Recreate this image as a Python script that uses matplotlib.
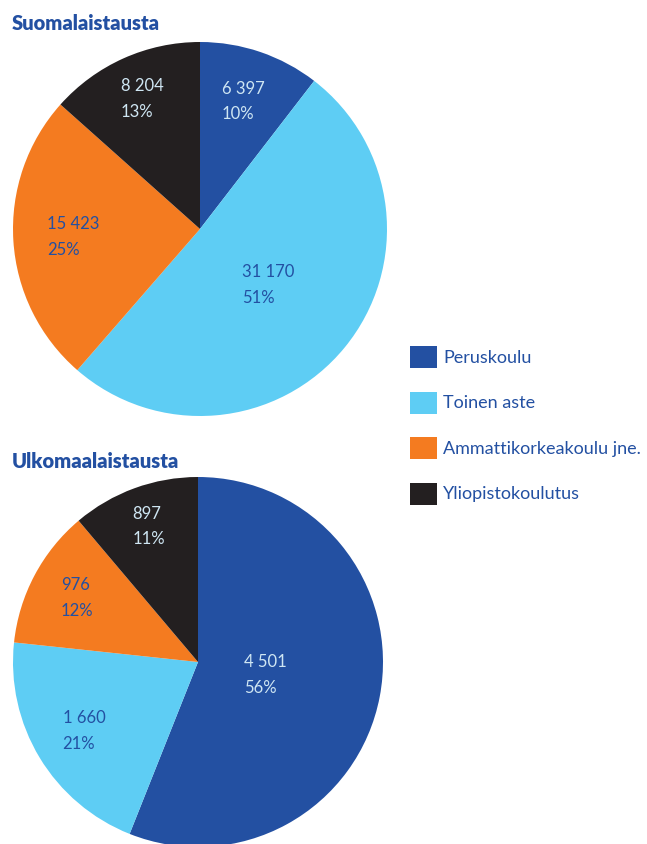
import numpy as np
import matplotlib
matplotlib.use("Agg")
import matplotlib.pyplot as plt

plt.rcParams['font.family'] = ['Lato', 'DejaVu Sans']

categories = ['Peruskoulu', 'Toinen aste', 'Ammattikorkeakoulu jne.', 'Yliopistokoulutus']
suomi = [6397, 31170, 15423, 8204]
ulko = [4501, 1660, 976, 897]

colors = ['#2350a2', '#5ecdf4', '#f47b20', '#231f20']
label_colors = ['#cfe6f3', '#2350a2', '#2350a2', '#cfe6f3']
navy = '#2350a2'

W, H = 647, 844
fig = plt.figure(figsize=(W / 100, H / 100), dpi=100)


def pie_axes(cx, cy, r):
    return fig.add_axes([(cx - r) / W, 1 - (cy + r) / H, 2 * r / W, 2 * r / H])


def draw_pie(ax, vals, dists):
    wedges, _ = ax.pie(vals, colors=colors, startangle=90, counterclock=False,
                       radius=1, wedgeprops=dict(linewidth=0))
    total = sum(vals)
    for w, v, d, c in zip(wedges, vals, dists, label_colors):
        ang = np.deg2rad((w.theta1 + w.theta2) / 2)
        txt = "{:,}".format(v).replace(",", " ") + "\n" + "%d%%" % round(v / total * 100)
        ax.text(d * np.cos(ang), d * np.sin(ang), txt, ha='center', va='center',
                multialignment='left', color=c, fontsize=12, linespacing=1.75)
    ax.set_xlim(-1, 1)
    ax.set_ylim(-1, 1)
    ax.set_aspect('equal')
    ax.axis('off')
    return wedges


ax1 = pie_axes(200, 229, 187)
wedges = draw_pie(ax1, suomi, [0.72, 0.47, 0.68, 0.76])

ax2 = pie_axes(198, 662, 185)
draw_pie(ax2, ulko, [0.37, 0.72, 0.74, 0.78])

fig.text(12 / W, 1 - 23 / H, 'Suomalaistausta', color=navy, fontsize=14.5,
         fontweight='heavy', va='center', ha='left')
fig.text(12 / W, 1 - 461 / H, 'Ulkomaalaistausta', color=navy, fontsize=14.5,
         fontweight='heavy', va='center', ha='left')

leg = fig.legend(wedges, categories, loc='upper left',
                 bbox_to_anchor=(410 / W, 1 - 346 / H), frameon=False,
                 fontsize=13, handlelength=1.5, handleheight=1.5,
                 handletextpad=0.35, labelspacing=1.3, borderpad=0,
                 borderaxespad=0)
for t in leg.get_texts():
    t.set_color(navy)

fig.savefig('out.png', dpi=100)
